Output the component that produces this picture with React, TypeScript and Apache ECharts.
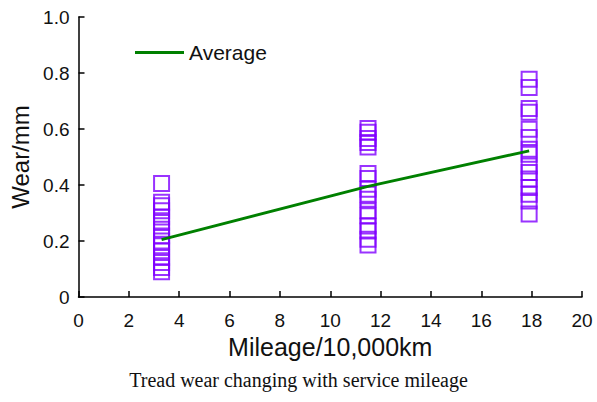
import React, { useEffect, useRef } from "react";
import * as echarts from "echarts";

const mileageGroups = [3.3, 11.5, 17.9];
const wearAt3_3 = [0.405, 0.338, 0.326, 0.308, 0.286, 0.266, 0.242, 0.218, 0.2, 0.183, 0.165, 0.141, 0.123, 0.105, 0.09];
const wearAt11_5 = [0.602, 0.588, 0.566, 0.552, 0.536, 0.441, 0.423, 0.385, 0.367, 0.349, 0.308, 0.29, 0.254, 0.236, 0.206, 0.186];
const wearAt17_9 = [0.778, 0.748, 0.673, 0.66, 0.599, 0.57, 0.528, 0.51, 0.468, 0.445, 0.421, 0.391, 0.367, 0.343, 0.296];
const averageWear = [0.205, 0.395, 0.522];
const caption = "Tread wear changing with service mileage";

export default function App() {
  const ref = useRef<HTMLDivElement>(null);
  useEffect(() => {
    if (!ref.current) return;
    const chart = echarts.init(ref.current, undefined, { renderer: "svg" });
    const scatterData: number[][] = [];
    [wearAt3_3, wearAt11_5, wearAt17_9].forEach((arr, i) => {
      arr.forEach((v) => scatterData.push([mileageGroups[i], v]));
    });
    const avgData = mileageGroups.map((m, i) => [m, averageWear[i]]);
    const font = "'Liberation Sans', Arial, sans-serif";
    chart.setOption({
      animation: false,
      backgroundColor: "#ffffff",
      grid: {
        left: 78.5,
        right: 15,
        top: 17,
        bottom: 105,
        containLabel: false,
        outerBoundsMode: "none",
      },
      legend: {
        show: true,
        left: 130,
        top: 37,
        itemWidth: 49,
        itemHeight: 3,
        itemGap: 10,
        textStyle: { fontFamily: font, fontSize: 21, color: "#111" },
        data: [{ name: "Average", icon: "rect" }],
      },
      xAxis: {
        type: "value",
        min: 0,
        max: 20,
        interval: 2,
        name: "Mileage/10,000km",
        nameLocation: "middle",
        nameGap: 36,
        nameTextStyle: { fontFamily: font, fontSize: 25, color: "#111" },
        axisLine: { show: true, lineStyle: { color: "#000", width: 1.5 } },
        axisTick: { show: true, inside: true, length: 6, lineStyle: { color: "#000", width: 1.5 } },
        axisLabel: { fontFamily: font, fontSize: 19, color: "#111", margin: 14 },
        splitLine: { show: false },
      },
      yAxis: {
        type: "value",
        min: 0,
        max: 1,
        interval: 0.2,
        name: "Wear/mm",
        nameLocation: "middle",
        nameGap: 46,
        nameTextStyle: { fontFamily: font, fontSize: 24, color: "#111" },
        axisLine: { show: true, lineStyle: { color: "#000", width: 1.5 } },
        axisTick: { show: true, inside: true, length: 6, lineStyle: { color: "#000", width: 1.5 } },
        axisLabel: {
          fontFamily: font,
          fontSize: 19,
          color: "#111",
          margin: 9,
          formatter: (v: number) => (v === 0 ? "0" : v.toFixed(1)),
        },
        splitLine: { show: false },
      },
      series: [
        {
          type: "scatter",
          name: "Samples",
          data: scatterData,
          symbol: "rect",
          symbolSize: [15, 15],
          itemStyle: { color: "rgba(255,255,255,0)", borderColor: "#7f00ff", borderWidth: 2 },
          z: 2,
        },
        {
          type: "line",
          name: "Average",
          data: avgData,
          showSymbol: false,
          symbol: "none",
          lineStyle: { color: "#008000", width: 3 },
          itemStyle: { color: "#008000" },
          z: 3,
        },
      ],
      graphic: [
        {
          type: "text",
          left: "center",
          top: 370,
          style: {
            text: caption,
            fontFamily: "'Liberation Serif', 'Times New Roman', serif",
            fontSize: 20,
            fill: "#111",
          },
        },
      ],
    });
    return () => chart.dispose();
  }, []);
  return (
    <div
      ref={ref}
      style={{ position: "fixed", left: 0, top: 0, width: 597, height: 402, background: "#fff" }}
    />
  );
}
